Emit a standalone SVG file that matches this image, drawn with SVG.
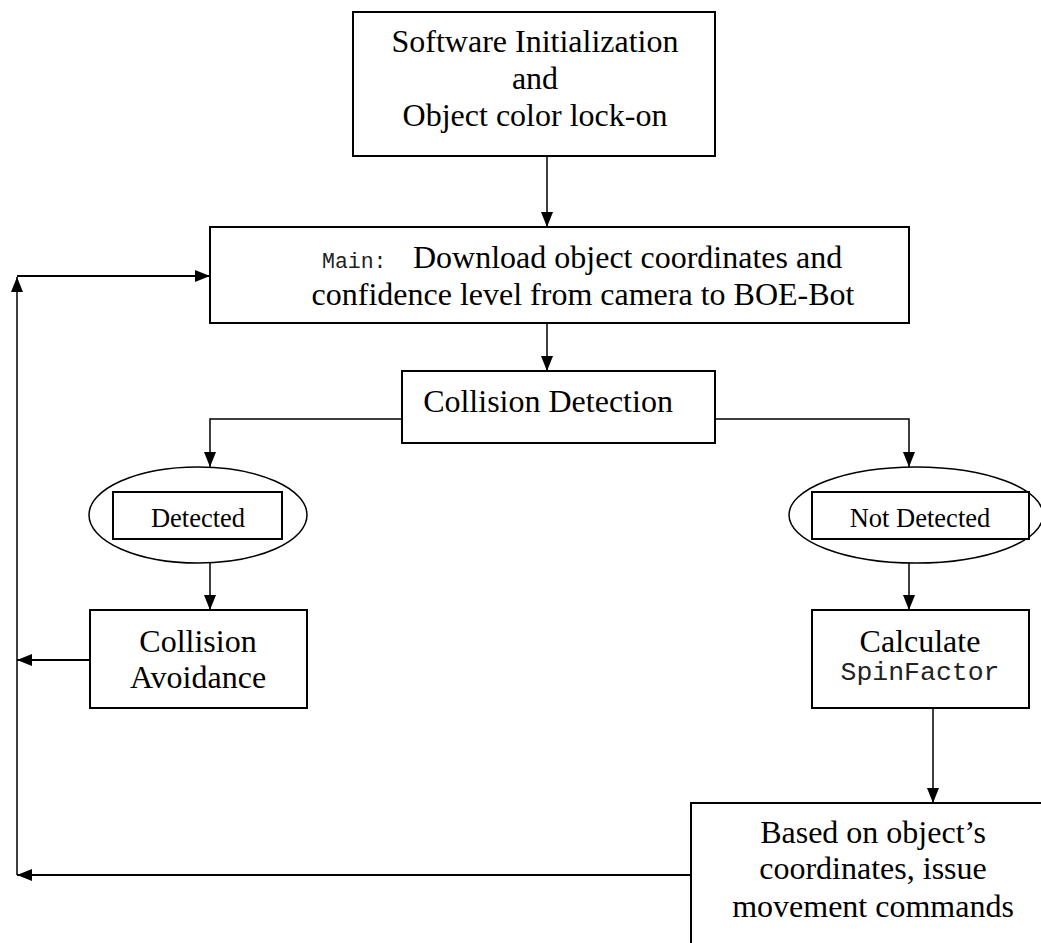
<svg xmlns="http://www.w3.org/2000/svg" width="1041" height="943" viewBox="0 0 1041 943">
<defs>
<marker id="ah" viewBox="0 0 15 12" refX="15" refY="6" markerWidth="15" markerHeight="12" markerUnits="userSpaceOnUse" orient="auto">
<path d="M0,0 L15,6 L0,12 Z" fill="#000"/>
</marker>
</defs>
<style>
.box{fill:#fff;stroke:#000;stroke-width:2}
.t{font-family:"Liberation Serif","Times New Roman",serif;font-size:32px;fill:#000;text-anchor:middle}
.s{font-family:"Liberation Serif","Times New Roman",serif;font-size:26.5px;fill:#000;text-anchor:middle}
.m{font-family:"Liberation Mono","Courier New",monospace;fill:#222}
.c{fill:none;stroke:#000;stroke-width:1.5}
.fb{fill:none;stroke:#000;stroke-width:2}
</style>
<rect width="1041" height="943" fill="#fff"/>
<g id="connectors">
<line class="c" x1="547" y1="156" x2="547" y2="227" marker-end="url(#ah)"/>
<line class="c" x1="547" y1="323" x2="547" y2="371" marker-end="url(#ah)"/>
<polyline class="c" points="402,419 210,419 210,467" marker-end="url(#ah)"/>
<polyline class="c" points="715,419 909,419 909,467" marker-end="url(#ah)"/>
<line class="c" x1="210" y1="563" x2="210" y2="610" marker-end="url(#ah)"/>
<line class="c" x1="909" y1="563" x2="909" y2="610" marker-end="url(#ah)"/>
<line class="c" x1="933" y1="708" x2="933" y2="803" marker-end="url(#ah)"/>
<line class="fb" x1="90" y1="660" x2="17" y2="660" marker-end="url(#ah)"/>
<line class="fb" x1="691" y1="875" x2="17" y2="875" marker-end="url(#ah)"/>
<line class="c" x1="17" y1="875" x2="17" y2="277" marker-end="url(#ah)"/>
<line class="fb" x1="17" y1="276" x2="210" y2="276" marker-end="url(#ah)"/>
</g>
<g id="init">
<rect class="box" x="353" y="12" width="362" height="144"/>
<text class="t" x="535" y="52">Software Initialization</text>
<text class="t" x="535" y="89">and</text>
<text class="t" x="535" y="126">Object color lock-on</text>
</g>
<g id="main">
<rect class="box" x="210" y="227" width="699" height="96"/>
<text x="322" y="268" class="m" font-size="21.5">Main:</text>
<text x="413" y="268" font-family="Liberation Serif, Times New Roman, serif" font-size="32">Download object coordinates and</text>
<text class="t" x="583" y="305">confidence level from camera to BOE-Bot</text>
</g>
<g id="collision-detection">
<rect class="box" x="402" y="371" width="313" height="72"/>
<text class="t" x="548" y="412">Collision Detection</text>
</g>
<g id="detected">
<ellipse cx="198" cy="515" rx="109" ry="48" fill="#fff" stroke="#000" stroke-width="1.5"/>
<rect class="box" x="113" y="492" width="169" height="47"/>
<text class="s" x="198" y="527">Detected</text>
</g>
<g id="not-detected">
<ellipse cx="916" cy="515" rx="127" ry="48" fill="#fff" stroke="#000" stroke-width="1.5"/>
<rect class="box" x="812" y="492" width="217" height="47"/>
<text class="s" x="920" y="527">Not Detected</text>
</g>
<g id="avoidance">
<rect class="box" x="90" y="610" width="217" height="98"/>
<text class="t" x="198" y="652">Collision</text>
<text class="t" x="198" y="688">Avoidance</text>
</g>
<g id="calculate">
<rect class="box" x="812" y="610" width="217" height="98"/>
<text class="t" x="920" y="652">Calculate</text>
<text class="m" x="920" y="680" font-size="26.5" text-anchor="middle">SpinFactor</text>
</g>
<g id="movement">
<rect class="box" x="691" y="803" width="380" height="160"/>
<text class="t" x="873" y="843">Based on object’s</text>
<text class="t" x="873" y="879">coordinates, issue</text>
<text class="t" x="873" y="917">movement commands</text>
</g>
</svg>
